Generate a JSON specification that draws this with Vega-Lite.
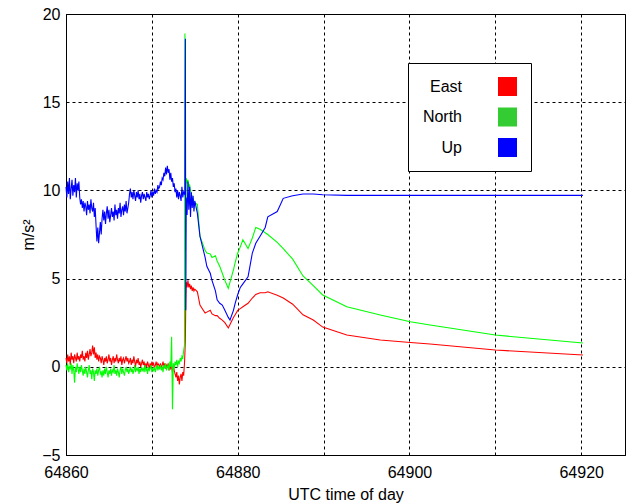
{
"$schema": "https://vega.github.io/schema/vega-lite/v6.json",
"width": 559, "height": 441,
"autosize": {"type": "none"},
"padding": {"left": 66, "top": 14, "right": 7, "bottom": 49},
"background": "white",
"config": {
  "font": "Liberation Sans",
  "view": {"stroke": "#000", "strokeWidth": 1},
  "axis": {"labelFont": "Liberation Sans", "labelFontSize": 16, "labelColor": "#000", "titleFont": "Liberation Sans", "titleFontSize": 16, "titleFontWeight": "normal", "titleColor": "#000", "grid": true, "gridColor": "#000", "gridDash": [3, 3], "gridWidth": 1, "gridOpacity": 1, "domainColor": "#000", "ticks": false, "labelFlush": false}
},
"data": {"values": [
{"t":64860.0,"East":0.5,"North":0.1,"Up":10.2},
{"t":64860.1,"East":0.2,"North":-0.2,"Up":9.6},
{"t":64860.2,"East":0.7,"North":0.2,"Up":10.5},
{"t":64860.3,"East":0.3,"North":-0.3,"Up":9.8},
{"t":64860.4,"East":0.6,"North":0.0,"Up":10.7},
{"t":64860.5,"East":0.1,"North":-0.1,"Up":9.5},
{"t":64860.6,"East":0.8,"North":0.2,"Up":10.1},
{"t":64860.7,"East":0.4,"North":-0.4,"Up":10.6},
{"t":64860.8,"East":0.6,"North":0.1,"Up":9.7},
{"t":64860.9,"East":0.2,"North":-0.2,"Up":10.3},
{"t":64861.0,"East":0.7,"North":-0.9,"Up":9.9},
{"t":64861.1,"East":0.5,"North":0.0,"Up":10.7},
{"t":64861.2,"East":0.3,"North":-0.3,"Up":9.6},
{"t":64861.3,"East":0.8,"North":0.2,"Up":10.4},
{"t":64861.4,"East":0.4,"North":-0.1,"Up":10.0},
{"t":64861.5,"East":0.6,"North":-0.4,"Up":10.5},
{"t":64861.6,"East":0.3,"North":0.0,"Up":9.6},
{"t":64861.7,"East":0.7,"North":-0.3,"Up":9.2},
{"t":64861.8,"East":0.5,"North":0.1,"Up":9.5},
{"t":64861.9,"East":0.9,"North":-0.2,"Up":9.0},
{"t":64862.0,"East":0.4,"North":-0.5,"Up":9.4},
{"t":64862.1,"East":0.6,"North":-0.1,"Up":8.8},
{"t":64862.2,"East":0.3,"North":-0.4,"Up":9.3},
{"t":64862.3,"East":0.8,"North":0.0,"Up":9.1},
{"t":64862.4,"East":0.5,"North":-0.3,"Up":8.6},
{"t":64862.5,"East":0.9,"North":-0.6,"Up":9.4},
{"t":64862.6,"East":0.4,"North":-0.2,"Up":8.9},
{"t":64862.7,"East":0.7,"North":0.1,"Up":9.2},
{"t":64862.8,"East":1.0,"North":-0.4,"Up":8.7},
{"t":64862.9,"East":0.6,"North":-0.2,"Up":9.5},
{"t":64863.0,"East":0.8,"North":-0.7,"Up":9.0},
{"t":64863.1,"East":1.2,"North":-0.1,"Up":8.8},
{"t":64863.2,"East":0.7,"North":-0.3,"Up":9.3},
{"t":64863.3,"East":1.1,"North":-0.8,"Up":8.5},
{"t":64863.4,"East":0.5,"North":-0.2,"Up":9.0},
{"t":64863.5,"East":0.8,"North":-0.4,"Up":8.0},
{"t":64863.6,"East":0.4,"North":-0.1,"Up":7.1},
{"t":64863.7,"East":0.7,"North":-0.5,"Up":7.9},
{"t":64863.8,"East":0.3,"North":-0.2,"Up":7.0},
{"t":64863.9,"East":0.6,"North":0.0,"Up":7.6},
{"t":64864.0,"East":0.5,"North":-0.4,"Up":8.2},
{"t":64864.1,"East":0.2,"North":-0.3,"Up":7.5},
{"t":64864.2,"East":0.6,"North":-0.6,"Up":8.4},
{"t":64864.3,"East":0.4,"North":-0.2,"Up":8.9},
{"t":64864.4,"East":0.1,"North":-0.5,"Up":8.3},
{"t":64864.5,"East":0.5,"North":-0.1,"Up":8.8},
{"t":64864.6,"East":0.3,"North":-0.4,"Up":8.1},
{"t":64864.7,"East":0.6,"North":0.0,"Up":8.7},
{"t":64864.8,"East":0.2,"North":-0.3,"Up":9.1},
{"t":64864.9,"East":0.4,"North":-0.6,"Up":8.4},
{"t":64865.0,"East":0.7,"North":-0.2,"Up":8.9},
{"t":64865.1,"East":0.3,"North":-0.4,"Up":8.2},
{"t":64865.2,"East":0.5,"North":-0.1,"Up":8.6},
{"t":64865.3,"East":0.1,"North":-0.5,"Up":9.0},
{"t":64865.4,"East":0.4,"North":-0.2,"Up":8.5},
{"t":64865.5,"East":0.6,"North":-0.3,"Up":8.8},
{"t":64865.6,"East":0.2,"North":0.1,"Up":8.3},
{"t":64865.7,"East":0.5,"North":-0.4,"Up":9.2},
{"t":64865.8,"East":0.3,"North":-0.2,"Up":8.6},
{"t":64865.9,"East":0.7,"North":-0.5,"Up":8.9},
{"t":64866.0,"East":0.4,"North":-0.1,"Up":8.4},
{"t":64866.1,"East":0.2,"North":-0.3,"Up":9.0},
{"t":64866.2,"East":0.5,"North":-0.6,"Up":8.7},
{"t":64866.3,"East":0.3,"North":-0.2,"Up":9.3},
{"t":64866.4,"East":0.6,"North":0.0,"Up":8.5},
{"t":64866.5,"East":0.1,"North":-0.4,"Up":8.9},
{"t":64866.6,"East":0.4,"North":-0.1,"Up":9.1},
{"t":64866.7,"East":0.5,"North":-0.3,"Up":8.6},
{"t":64866.8,"East":0.2,"North":-0.5,"Up":9.2},
{"t":64866.9,"East":0.4,"North":-0.2,"Up":8.8},
{"t":64867.0,"East":0.6,"North":0.0,"Up":9.4},
{"t":64867.1,"East":0.3,"North":-0.3,"Up":8.7},
{"t":64867.2,"East":0.5,"North":-0.1,"Up":9.0},
{"t":64867.3,"East":0.2,"North":-0.4,"Up":9.3},
{"t":64867.4,"East":0.3,"North":-0.2,"Up":9.8},
{"t":64867.5,"East":0.5,"North":0.0,"Up":10.1},
{"t":64867.6,"East":0.1,"North":-0.3,"Up":9.6},
{"t":64867.7,"East":0.4,"North":-0.1,"Up":9.9},
{"t":64867.8,"East":0.2,"North":-0.4,"Up":9.5},
{"t":64867.9,"East":0.6,"North":-0.2,"Up":10.0},
{"t":64868.0,"East":0.3,"North":0.1,"Up":9.7},
{"t":64868.1,"East":0.0,"North":-0.3,"Up":9.4},
{"t":64868.2,"East":0.4,"North":-0.1,"Up":9.9},
{"t":64868.3,"East":0.2,"North":-0.2,"Up":9.6},
{"t":64868.4,"East":0.5,"North":0.0,"Up":10.0},
{"t":64868.5,"East":0.1,"North":-0.4,"Up":9.5},
{"t":64868.6,"East":0.3,"North":-0.1,"Up":9.8},
{"t":64868.7,"East":0.0,"North":-0.3,"Up":9.3},
{"t":64868.8,"East":0.2,"North":0.0,"Up":9.7},
{"t":64868.9,"East":0.4,"North":-0.2,"Up":9.9},
{"t":64869.0,"East":0.1,"North":-0.1,"Up":9.5},
{"t":64869.1,"East":0.3,"North":-0.3,"Up":9.8},
{"t":64869.2,"East":-0.1,"North":0.1,"Up":9.6},
{"t":64869.3,"East":0.2,"North":-0.2,"Up":9.4},
{"t":64869.4,"East":0.0,"North":-0.1,"Up":9.9},
{"t":64869.5,"East":0.3,"North":-0.4,"Up":9.6},
{"t":64869.6,"East":0.1,"North":0.0,"Up":9.8},
{"t":64869.7,"East":-0.1,"North":-0.2,"Up":9.5},
{"t":64869.8,"East":0.2,"North":-0.1,"Up":9.7},
{"t":64869.9,"East":0.0,"North":0.1,"Up":10.0},
{"t":64870.0,"East":0.3,"North":-0.3,"Up":9.6},
{"t":64870.1,"East":0.1,"North":-0.1,"Up":9.9},
{"t":64870.2,"East":0.2,"North":-0.2,"Up":9.7},
{"t":64870.3,"East":-0.1,"North":0.0,"Up":10.1},
{"t":64870.4,"East":0.1,"North":-0.3,"Up":9.8},
{"t":64870.5,"East":0.3,"North":-0.1,"Up":10.0},
{"t":64870.6,"East":0.0,"North":0.1,"Up":9.9},
{"t":64870.7,"East":0.2,"North":-0.2,"Up":10.3},
{"t":64870.8,"East":0.1,"North":0.0,"Up":10.1},
{"t":64870.9,"East":0.0,"North":-0.1,"Up":10.2},
{"t":64871.0,"East":0.2,"North":0.1,"Up":10.5},
{"t":64871.1,"East":-0.1,"North":-0.2,"Up":10.3},
{"t":64871.2,"East":0.1,"North":0.0,"Up":10.7},
{"t":64871.3,"East":0.3,"North":-0.3,"Up":10.6},
{"t":64871.4,"East":0.0,"North":0.1,"Up":11.0},
{"t":64871.5,"East":0.2,"North":-0.1,"Up":10.8},
{"t":64871.6,"East":-0.1,"North":0.2,"Up":11.3},
{"t":64871.7,"East":0.1,"North":-0.2,"Up":10.9},
{"t":64871.8,"East":0.0,"North":0.0,"Up":11.4},
{"t":64871.9,"East":0.2,"North":0.1,"Up":11.0},
{"t":64872.0,"East":-0.2,"North":-0.2,"Up":11.2},
{"t":64872.1,"East":0.1,"North":0.3,"Up":10.6},
{"t":64872.2,"East":-0.1,"North":0.0,"Up":11.0},
{"t":64872.3,"East":0.0,"North":1.7,"Up":10.5},
{"t":64872.4,"East":-0.3,"North":-2.4,"Up":10.7},
{"t":64872.5,"East":0.1,"North":0.2,"Up":10.2},
{"t":64872.6,"East":-0.2,"North":-0.1,"Up":10.4},
{"t":64872.7,"East":-0.4,"North":0.3,"Up":9.9},
{"t":64872.8,"East":-0.6,"North":0.1,"Up":10.1},
{"t":64872.9,"East":-0.3,"North":0.4,"Up":9.6},
{"t":64873.0,"East":-0.8,"North":0.0,"Up":10.0},
{"t":64873.1,"East":-0.5,"North":0.3,"Up":9.5},
{"t":64873.2,"East":-1.0,"North":0.2,"Up":9.9},
{"t":64873.3,"East":-0.6,"North":0.5,"Up":9.7},
{"t":64873.4,"East":-0.4,"North":0.3,"Up":9.4},
{"t":64873.5,"East":-0.8,"North":0.6,"Up":10.2},
{"t":64873.6,"East":-0.3,"North":0.5,"Up":9.6},
{"t":64873.7,"East":-0.5,"North":0.9,"Up":9.9},
{"t":64873.8,"East":0.2,"North":1.2,"Up":9.8},
{"t":64873.85,"East":0.8,"North":18.9,"Up":10.0},
{"t":64873.9,"East":1.5,"North":6.6,"Up":18.6},
{"t":64873.95,"East":3.8,"North":9.0,"Up":3.2},
{"t":64874.0,"East":4.8,"North":10.7,"Up":9.6},
{"t":64874.1,"East":4.5,"North":10.4,"Up":8.6},
{"t":64874.2,"East":4.9,"North":10.6,"Up":10.5},
{"t":64874.3,"East":4.5,"North":10.2,"Up":8.9},
{"t":64874.4,"East":4.7,"North":10.3,"Up":10.2},
{"t":64874.5,"East":4.4,"North":10.0,"Up":8.5},
{"t":64874.6,"East":4.6,"North":9.8,"Up":9.9},
{"t":64874.7,"East":4.3,"North":9.6,"Up":9.0},
{"t":64874.8,"East":4.5,"North":9.5,"Up":9.7},
{"t":64874.9,"East":4.3,"North":9.4,"Up":8.8},
{"t":64875.0,"East":4.4,"North":9.3,"Up":9.4},
{"t":64875.3,"East":4.25,"North":9.2,"Up":8.7},
{"t":64875.6,"East":3.5,"North":7.4,"Up":7.4},
{"t":64876.2,"East":3.05,"North":6.6,"Up":6.2},
{"t":64876.4,"East":3.1,"North":6.45,"Up":5.7},
{"t":64876.8,"East":3.2,"North":6.4,"Up":5.3},
{"t":64877.0,"East":3.0,"North":6.2,"Up":4.9},
{"t":64877.4,"East":2.9,"North":6.3,"Up":4.3},
{"t":64877.6,"East":2.9,"North":6.0,"Up":3.8},
{"t":64877.9,"East":2.75,"North":5.7,"Up":3.6},
{"t":64878.2,"East":2.65,"North":5.3,"Up":3.5},
{"t":64878.5,"East":2.5,"North":4.9,"Up":3.2},
{"t":64878.9,"East":2.2,"North":4.45,"Up":2.8},
{"t":64879.1,"East":2.4,"North":4.8,"Up":2.65},
{"t":64879.5,"East":2.8,"North":5.5,"Up":3.2},
{"t":64879.7,"East":2.95,"North":5.9,"Up":3.6},
{"t":64880.0,"East":3.2,"North":6.45,"Up":4.1},
{"t":64880.3,"East":3.3,"North":6.8,"Up":4.5},
{"t":64880.6,"East":3.4,"North":7.2,"Up":4.7},
{"t":64881.2,"East":3.6,"North":6.7,"Up":5.1},
{"t":64881.7,"East":3.9,"North":7.3,"Up":6.45},
{"t":64882.1,"East":4.1,"North":7.9,"Up":7.0},
{"t":64882.6,"East":4.2,"North":7.8,"Up":7.4},
{"t":64883.2,"East":4.2,"North":7.6,"Up":7.9},
{"t":64883.5,"East":4.25,"North":7.5,"Up":8.5},
{"t":64884.6,"East":4.05,"North":7.05,"Up":8.8},
{"t":64885.3,"East":3.9,"North":6.7,"Up":9.55},
{"t":64886.4,"East":3.55,"North":6.1,"Up":9.7},
{"t":64887.6,"East":2.95,"North":5.15,"Up":9.8},
{"t":64888.8,"East":2.65,"North":4.6,"Up":9.8},
{"t":64889.9,"East":2.25,"North":4.07,"Up":9.75},
{"t":64892.7,"East":1.8,"North":3.4,"Up":9.72},
{"t":64896.6,"East":1.52,"North":2.94,"Up":9.72},
{"t":64900.1,"East":1.38,"North":2.55,"Up":9.72},
{"t":64902.4,"East":1.29,"North":2.37,"Up":9.72},
{"t":64910.0,"East":0.95,"North":1.8,"Up":9.72},
{"t":64920.2,"East":0.67,"North":1.35,"Up":9.72}
]},
"transform": [{"fold": ["East", "North", "Up"], "as": ["series", "value"]}],
"mark": {"type": "line", "strokeWidth": 1.1, "interpolate": "linear"},
"encoding": {
  "x": {"field": "t", "type": "quantitative",
    "scale": {"domain": [64860, 64925.1], "nice": false, "zero": false},
    "axis": {"values": [64860, 64870, 64880, 64890, 64900, 64910, 64920], "labelExpr": "datum.value % 20 === 0 ? format(datum.value, 'd') : ''", "labelOverlap": false, "labelPadding": 9, "title": "UTC time of day", "titleY": 44, "titleBaseline": "alphabetic"}},
  "y": {"field": "value", "type": "quantitative",
    "scale": {"domain": [-5, 20], "nice": false, "zero": false},
    "axis": {"values": [-5, 0, 5, 10, 15, 20], "labelPadding": 6, "title": "m/s²", "titleX": -33, "titleBaseline": "alphabetic", "titleAngle": 270}},
  "color": {"field": "series", "type": "nominal",
    "scale": {"domain": ["East", "North", "Up"], "range": ["#ff0000", "#00ff00", "#0000ff"]},
    "legend": {"title": null, "orient": "none", "legendX": 342, "legendY": 49, "strokeColor": "#000", "fillColor": "#fff", "padding": 14, "symbolType": "square", "symbolSize": 361, "symbolStrokeWidth": 0, "symbolOffset": 76, "labelAlign": "right", "labelOffset": -55, "labelFontSize": 16, "labelFont": "Liberation Sans", "labelColor": "#000", "rowPadding": 11.5, "labelLimit": 200,
      "encode": {"symbols": {"update": {"fill": {"signal": "datum.value === 'North' ? '#33cc33' : datum.value === 'East' ? '#ff0000' : '#0000ff'"}, "stroke": {"value": "transparent"}, "opacity": {"value": 1}}}}}}
}
}
